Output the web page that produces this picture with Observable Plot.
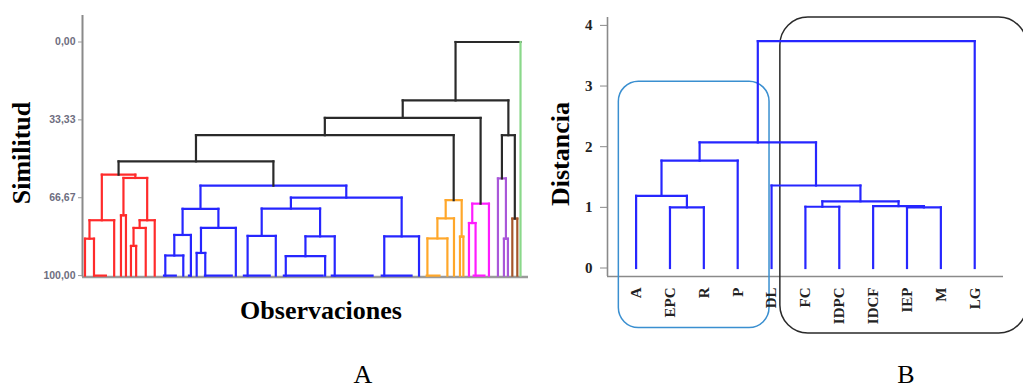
<!DOCTYPE html>
<html>
<head>
<meta charset="utf-8">
<script src="https://cdn.jsdelivr.net/npm/d3@7"></script>
<script src="https://cdn.jsdelivr.net/npm/@observablehq/plot@0.6"></script>
<style>
  html, body { margin: 0; padding: 0; background: #fff; }
  #wrap { position: relative; width: 1023px; height: 390px; overflow: hidden; background: #fff; }
  #wrap svg { position: absolute; top: 0; }
  .lbl { position: absolute; font-family: "Liberation Serif", "Times New Roman", serif; font-weight: bold; color: #000; white-space: nowrap; line-height: 1; transform: translate(-50%, -50%); }
  .rot { transform: translate(-50%, -50%) rotate(-90deg); }
  .panel { font-weight: normal; }
</style>
</head>
<body>
<div id="wrap"></div>
<script>
// ================= Panel A : Similitud / Observaciones =================
// leaves (observation index along the axis) and their cluster
const leafIdsA = ["r1","r2","r3","r4","r5","r6","r7","r8","r9",
  "b1","b2","b3","b4","b5","b6","b7","b8","b9","b10","b11","b12","b13",
  "o1","o2","o3","o4","o5","m1","m2","m3","p1","p2","p3","w1","w2","g1"];
const leafObsA = [1, 5.5, 15.6, 19, 21.5, 24, 26.6, 31.4, 35.9,
  41.2, 50.2, 54, 56.9, 61.2, 76.5, 82.4, 96.5, 101.5, 121.2, 126, 150.8, 168.2,
  172.4, 182.4, 185.7, 188.7, 190.4, 193.2, 196.5, 203.2, 207.7, 210.7, 212.7, 214.9, 217.4, 219];
const leafClusterA = ["rojo","rojo","rojo","rojo","rojo","rojo","rojo","rojo","rojo",
  "azul","azul","azul","azul","azul","azul","azul","azul","azul","azul","azul","azul","azul",
  "naranja","naranja","naranja","naranja","naranja","magenta","magenta","magenta",
  "morado","morado","morado","cafe","cafe","verde"];
// merges: [id, left, right, similarity, cluster]
const mergesA = [
  ["R1","r1","r2",84.2,"rojo"], ["R2","R1","r3",76.3,"rojo"], ["R3","r4","r5",74.2,"rojo"],
  ["R4","r6","r7",87.3,"rojo"], ["R5","R4","r8",79.6,"rojo"], ["R6","R5","r9",76.3,"rojo"],
  ["R7","R3","R6",58.2,"rojo"], ["R8","R2","R7",56.8,"rojo"],
  ["B1","b1","b2",91.4,"azul"], ["B2","B1","b3",82.6,"azul"], ["B3","b4","b5",90.3,"azul"],
  ["B4","B3","b6",79.6,"azul"], ["B5","B2","B4",71.4,"azul"], ["B6","b7","b8",83.0,"azul"],
  ["B7","b9","b10",91.7,"azul"], ["B8","B7","b11",83.2,"azul"], ["B9","B6","B8",71.3,"azul"],
  ["B10","b12","b13",83.2,"azul"], ["B11","B9","B10",66.6,"azul"], ["B12","B5","B11",61.5,"azul"],
  ["K1","R8","B12",51.1,"negro"],
  ["O1","o1","o2",84.1,"naranja"], ["O2","O1","o3",75.5,"naranja"], ["O3","o4","o5",83.3,"naranja"],
  ["O4","O2","O3",67.7,"naranja"],
  ["K2","K1","O4",39.9,"negro"],
  ["M1","m1","m2",77.5,"magenta"], ["M2","M1","m3",69.2,"magenta"],
  ["K3","K2","M2",32.5,"negro"],
  ["P1","p2","p3",84.2,"morado"], ["P2","p1","P1",58.4,"morado"],
  ["W1","w1","w2",75.6,"cafe"],
  ["K4","P2","W1",39.9,"negro"],
  ["K5","K3","K4",25.0,"negro"],
  ["K6","K5","g1",0,"negro"]
];
// identical observations (merged at 100) drawn along the base
const tieFromA = [5, 40, 52.5, 60.5, 80, 100, 124, 149, 171.5, 195];
const tieToA   = [12, 47, 54.5, 75, 94, 120.5, 145.5, 165, 179, 201.5];
const tieClusterA = ["rojo","azul","azul","azul","azul","azul","azul","azul","naranja","magenta"];
const yTicksA = [0, 33.33, 66.67, 100];

// ================= Panel B : Distancia =================
const leavesB = ["A","EPC","R","P","DL","FC","IDPC","IDCF","IEP","M","LG"];
const mergesB = [
  ["n1","EPC","R",1.00,"azul"], ["n2","A","n1",1.19,"azul"], ["n3","n2","P",1.77,"azul"],
  ["n4","FC","IDPC",1.01,"azul"], ["n5","IEP","M",1.00,"azul"], ["n6","IDCF","n5",1.02,"azul"],
  ["n7","n4","n6",1.10,"azul"], ["n8","DL","n7",1.36,"azul"], ["n9","n3","n8",2.07,"azul"],
  ["n10","n9","LG",3.74,"azul"]
];
const yTicksB = [0, 1, 2, 3, 4];
// group outlines (x in leaf units, y in distance units)
const groupNamesB = ["grupo1", "grupo2"];
const groupX1B = [-0.51, 4.26];
const groupX2B = [3.94, 11.55];
const groupY1B = [-0.99, -1.08];
const groupY2B = [3.07, 4.13];

// ================= styles =================
const palette = {
  rojo: "#ff2b2b", azul: "#2626ff", naranja: "#ffa72a", magenta: "#ff1cff",
  morado: "#a957d9", cafe: "#a5552a", verde: "#8ad88a", negro: "#2a2a2a"
};
const groupStroke = {grupo1: "#3a8fd0", grupo2: "#2a2a2a"};
const groupRadius = {grupo1: 20, grupo2: 28};

function buildTree(ids, pos, base, clusters, merges) {
  const nodes = new Map();
  ids.forEach((id, i) => nodes.set(id, {x: pos[i], h: base, leaf: true, cluster: clusters[i]}));
  const segs = [];
  for (const [id, a, b, h, cl] of merges) {
    const A = nodes.get(a), B = nodes.get(b);
    nodes.set(id, {x: (A.x + B.x) / 2, h, leaf: false, cluster: cl});
    segs.push({x1: A.x, y1: h, x2: B.x, y2: h, cluster: cl});
    for (const C of [A, B]) segs.push({x1: C.x, y1: h, x2: C.x, y2: C.h, cluster: C.leaf ? C.cluster : cl});
  }
  return segs;
}

const wrap = document.getElementById("wrap");

// ---------- Panel A ----------
const segsA = buildTree(leafIdsA, leafObsA, 100, leafClusterA, mergesA);
const tiesA = tieFromA.map((f, i) => ({x1: f, x2: tieToA[i], cluster: tieClusterA[i]}));
const xDomA = [-0.25, 223];
const yDomA = [-11.35, 100.6];

const plotA = Plot.plot({
  width: 530, height: 390,
  marginLeft: 82, marginRight: 2, marginTop: 15, marginBottom: 113.5,
  x: {domain: xDomA, axis: null},
  y: {domain: yDomA, reverse: true, axis: null},
  style: {background: "transparent", overflow: "visible"},
  marks: [
    Plot.ruleY([yDomA[1]], {x1: xDomA[0], x2: xDomA[1], stroke: "#9a9a9a", strokeWidth: 2.6}),
    Plot.ruleX([xDomA[0]], {y1: yDomA[0], y2: yDomA[1], stroke: "#8a8a8a", strokeWidth: 2}),
    Plot.link(tiesA, {x1: "x1", x2: "x2", y1: () => 100, y2: () => 100, stroke: d => palette[d.cluster], strokeWidth: 2.2}),
    Plot.link(segsA, {x1: "x1", y1: "y1", x2: "x2", y2: "y2", stroke: d => palette[d.cluster], strokeWidth: 2.2, strokeLinecap: "square"}),
    Plot.axisY({ticks: yTicksA, tickFormat: d => d3.format(".2f")(d).replace(".", ","), tickSize: 4, tickPadding: 3,
      stroke: "#9a9a9a", color: "#6e6e80", fontSize: 10.5, fontWeight: "bold", fontFamily: "Liberation Sans", label: null})
  ]
});
plotA.style.left = "0px";
wrap.appendChild(plotA);

// ---------- Panel B ----------
const segsB = buildTree(leavesB, leavesB.map((d, i) => i), 0, leavesB.map(() => "azul"), mergesB);
const groupsB = groupNamesB.map((g, i) => ({g, x1: groupX1B[i], x2: groupX2B[i], y1: groupY1B[i], y2: groupY2B[i]}));
const xDomB = [-0.845, leavesB.length - 1 + 0.85];
const yDomB = [-0.14, 4.13];

const plotB = Plot.plot({
  width: 493, height: 390,
  marginLeft: 77, marginRight: 20, marginTop: 17, marginBottom: 114,
  x: {domain: xDomB, axis: null},
  y: {domain: yDomB, axis: null},
  style: {background: "transparent", overflow: "visible"},
  marks: [
    Plot.ruleX([xDomB[0]], {y1: yDomB[0], y2: yDomB[1], stroke: "#8a8a8a", strokeWidth: 1.6}),
    Plot.ruleY([yDomB[0]], {x1: xDomB[0], x2: xDomB[1], stroke: "#8a8a8a", strokeWidth: 1.6}),
    Plot.rect(groupsB.slice(0, 1), {x1: "x1", x2: "x2", y1: "y1", y2: "y2", fill: "none", stroke: d => groupStroke[d.g], strokeWidth: 1.5, rx: groupRadius.grupo1}),
    Plot.rect(groupsB.slice(1), {x1: "x1", x2: "x2", y1: "y1", y2: "y2", fill: "none", stroke: d => groupStroke[d.g], strokeWidth: 1.5, rx: groupRadius.grupo2}),
    Plot.link(segsB, {x1: "x1", y1: "y1", x2: "x2", y2: "y2", stroke: d => palette[d.cluster], strokeWidth: 2.2, strokeLinecap: "square"}),
    Plot.axisY({ticks: yTicksB, tickFormat: d3.format("d"), tickSize: 7, tickPadding: 8,
      stroke: "#8a8a8a", color: "#222", fontSize: 15, fontWeight: "bold", fontFamily: "Liberation Serif", label: null}),
    Plot.axisX({ticks: d3.range(leavesB.length), tickFormat: i => leavesB[i], tickRotate: -90, tickSize: 0, tickPadding: 11,
      color: "#222", fontSize: 15, fontWeight: "bold", fontFamily: "Liberation Serif", label: null})
  ]
});
plotB.style.left = "530px";
wrap.appendChild(plotB);

// ---------- titles ----------
function addLabel(text, x, y, size, cls) {
  const d = document.createElement("div");
  d.className = "lbl " + (cls || "");
  d.textContent = text;
  d.style.left = x + "px";
  d.style.top = y + "px";
  d.style.fontSize = size + "px";
  wrap.appendChild(d);
}
addLabel("Similitud", 22, 153, 26, "rot");
addLabel("Observaciones", 321, 311, 26);
addLabel("Distancia", 561, 154, 26, "rot");
addLabel("A", 363, 375, 26, "panel");
addLabel("B", 906, 375, 26, "panel");
</script>
</body>
</html>
